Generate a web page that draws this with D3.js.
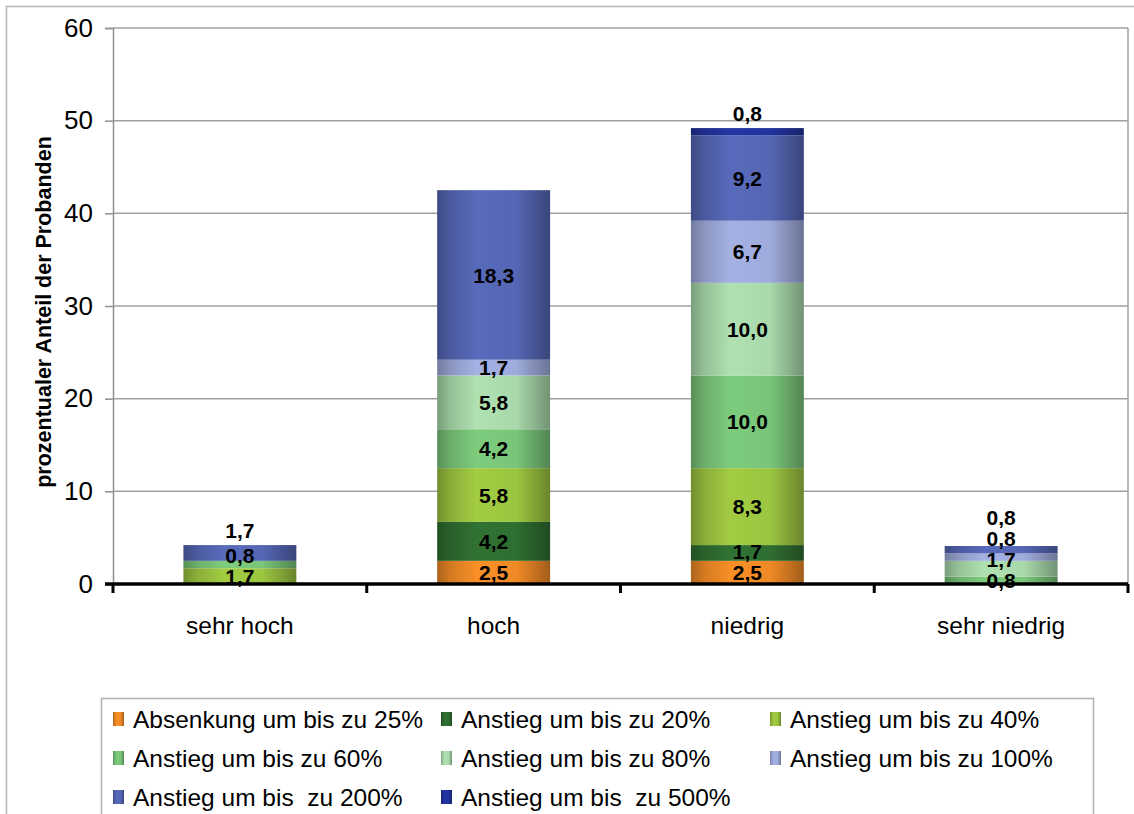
<!DOCTYPE html>
<html>
<head>
<meta charset="utf-8">
<script src="https://cdn.jsdelivr.net/npm/d3@7"></script>
<style>
  html, body { margin: 0; padding: 0; background: #fff; }
  svg { display: block; font-family: "Liberation Sans", Arial, sans-serif; }
</style>
</head>
<body>
<svg id="chart" width="1134" height="814"></svg>
<script>
// ---- data ----
const categories = ["sehr hoch", "hoch", "niedrig", "sehr niedrig"];
const seriesNames = [
  "Absenkung um bis zu 25%",
  "Anstieg um bis zu 20%",
  "Anstieg um bis zu 40%",
  "Anstieg um bis zu 60%",
  "Anstieg um bis zu 80%",
  "Anstieg um bis zu 100%",
  "Anstieg um bis  zu 200%",
  "Anstieg um bis  zu 500%"
];
const absenkung25 = [0, 2.5, 2.5, 0];
const anstieg20   = [0, 4.2, 1.7, 0];
const anstieg40   = [1.7, 5.8, 8.3, 0];
const anstieg60   = [0.8, 4.2, 10.0, 0.8];
const anstieg80   = [0, 5.8, 10.0, 1.7];
const anstieg100  = [0, 1.7, 6.7, 0.8];
const anstieg200  = [1.7, 18.3, 9.2, 0.8];
const anstieg500  = [0, 0, 0.8, 0];
const yTicks = [0, 10, 20, 30, 40, 50, 60];
const seriesColors = ["#f08a26", "#2f6e31", "#9cc540", "#79c579", "#a9d9ab", "#9eabdb", "#5566b4", "#22339e"];

const seriesValues = [absenkung25, anstieg20, anstieg40, anstieg60, anstieg80, anstieg100, anstieg200, anstieg500];

// table for d3.stack
const table = categories.map((c, i) => {
  const row = { cat: c };
  seriesNames.forEach((s, j) => row[s] = seriesValues[j][i]);
  return row;
});

const svg = d3.select("#chart");
const margin = { left: 113, right: 1128, top: 28, bottom: 584 };

// outer frame
svg.append("rect").attr("x", 6.5).attr("y", 6.5).attr("width", 1200).attr("height", 900)
  .attr("fill", "none").attr("stroke", "#b5b5b5").attr("stroke-width", 1.5);

const x = d3.scaleBand().domain(categories).range([margin.left, margin.right]).paddingInner(0).paddingOuter(0);
const y = d3.scaleLinear().domain([0, 60]).range([margin.bottom, margin.top]);
const barW = x.bandwidth() * 0.445;

// gradients
const defs = svg.append("defs");
seriesColors.forEach((c, i) => {
  const g = defs.append("linearGradient").attr("id", "g" + i).attr("x1", "0").attr("x2", "1").attr("y1", "0").attr("y2", "0");
  const base = d3.color(c);
  g.append("stop").attr("offset", "0%").attr("stop-color", d3.color(c).darker(0.9));
  g.append("stop").attr("offset", "12%").attr("stop-color", d3.color(c).darker(0.35));
  g.append("stop").attr("offset", "35%").attr("stop-color", base.brighter(0.1));
  g.append("stop").attr("offset", "70%").attr("stop-color", base);
  g.append("stop").attr("offset", "88%").attr("stop-color", d3.color(c).darker(0.6));
  g.append("stop").attr("offset", "100%").attr("stop-color", d3.color(c).darker(1.1));
});

// gridlines
svg.append("g").selectAll("line").data(yTicks.filter(t => t > 0)).join("line")
  .attr("x1", margin.left).attr("x2", margin.right)
  .attr("y1", d => y(d)).attr("y2", d => y(d))
  .attr("stroke", "#a0a0a0").attr("stroke-width", 1.5);

// plot right border
svg.append("line").attr("x1", margin.right).attr("x2", margin.right)
  .attr("y1", margin.top).attr("y2", margin.bottom)
  .attr("stroke", "#a0a0a0").attr("stroke-width", 1.5);

// y axis
const yAxis = d3.axisLeft(y).tickValues(yTicks).tickSize(8).tickPadding(12);
const yg = svg.append("g").attr("transform", `translate(${margin.left},0)`).call(yAxis);
yg.select(".domain").attr("stroke", "#909090").attr("stroke-width", 1.5);
yg.selectAll(".tick line").attr("stroke", "#909090").attr("stroke-width", 1.5);
yg.selectAll(".tick text").attr("font-size", 26).attr("fill", "#000")
  .attr("font-family", "'Liberation Sans', Arial, sans-serif");

// y title
svg.append("text")
  .attr("transform", `translate(51,312) rotate(-90)`)
  .attr("text-anchor", "middle").attr("font-size", 21.5).attr("font-weight", "bold")
  .text("prozentualer Anteil der Probanden");

// bars
const stack = d3.stack().keys(seriesNames);
const stacked = stack(table);

const barsG = svg.append("g");
stacked.forEach((layer, j) => {
  barsG.append("g").selectAll("rect").data(layer.filter(d => d[1] - d[0] > 0)).join("rect")
    .attr("x", d => x(d.data.cat) + (x.bandwidth() - barW) / 2)
    .attr("width", barW)
    .attr("y", d => y(d[1]))
    .attr("height", d => y(d[0]) - y(d[1]))
    .attr("fill", `url(#g${j})`);
});

// x axis
const xAxisG = svg.append("g");
xAxisG.append("line").attr("x1", margin.left - 8).attr("x2", margin.right)
  .attr("y1", margin.bottom).attr("y2", margin.bottom)
  .attr("stroke", "#000").attr("stroke-width", 3.5);
const boundaries = categories.map(c => x(c)).concat([margin.right]);
xAxisG.selectAll("line.tk").data(boundaries).join("line").attr("class", "tk")
  .attr("x1", d => d).attr("x2", d => d)
  .attr("y1", margin.bottom).attr("y2", margin.bottom + 9)
  .attr("stroke", "#000").attr("stroke-width", 3);
xAxisG.selectAll("text").data(categories).join("text")
  .attr("x", d => x(d) + x.bandwidth() / 2)
  .attr("y", 634)
  .attr("text-anchor", "middle").attr("font-size", 24.5)
  .text(d => d);

// labels with collision avoidance
const fmt = v => d3.format(".1f")(v).replace(".", ",");
const lineH = 21;
categories.forEach((c, i) => {
  const segs = stacked.map(layer => layer[i]).filter(d => d[1] - d[0] > 0);
  let prev = Infinity;
  const barTop = y(segs[segs.length - 1][1]);
  segs.forEach((d, k) => {
    const center = (y(d[0]) + y(d[1])) / 2;
    const h = y(d[0]) - y(d[1]);
    let ly;
    if (k === segs.length - 1 && h < 18 && k > 0) {
      ly = Math.min(barTop - 15, prev - lineH);
    } else {
      ly = Math.min(center, prev - lineH);
    }
    prev = ly;
    svg.append("text")
      .attr("x", x(c) + x.bandwidth() / 2)
      .attr("y", ly)
      .attr("dy", "0.36em")
      .attr("text-anchor", "middle")
      .attr("font-size", 21).attr("font-weight", "bold")
      .text(fmt(d[1] - d[0]));
  });
});

// legend
svg.append("rect").attr("x", 101.5).attr("y", 698.5).attr("width", 992).attr("height", 200)
  .attr("fill", "#fff").attr("stroke", "#b0b0b0").attr("stroke-width", 1.5);
const legCols = [113, 441, 770];
const legRows = [719, 758, 797];
const leg = svg.append("g");
seriesNames.forEach((s, j) => {
  const cx = legCols[j % 3], cy = legRows[Math.floor(j / 3)];
  leg.append("rect").attr("x", cx).attr("y", cy - 7).attr("width", 11).attr("height", 14)
    .attr("fill", `url(#g${j})`);
  leg.append("text").attr("x", cx + 20).attr("y", cy).attr("dy", "0.36em")
    .attr("font-size", 24.5).style("white-space", "pre").text(s);
});
</script>
</body>
</html>
